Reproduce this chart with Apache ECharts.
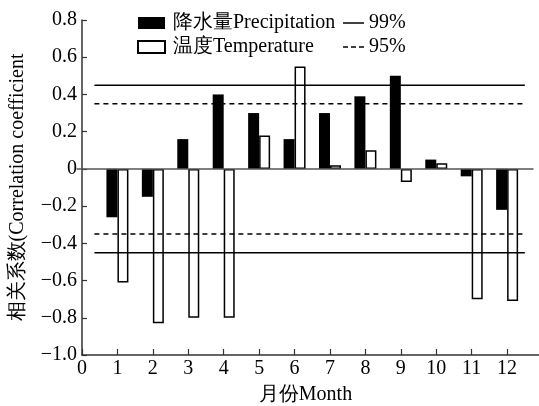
<!DOCTYPE html>
<html><head><meta charset="utf-8">
<script src="https://cdn.jsdelivr.net/npm/echarts@6/dist/echarts.min.js"></script>
<style>html,body{margin:0;padding:0;background:#fff}#c{width:539px;height:406px}</style>
</head><body><div id="c"></div>
<script>
const months = [1,2,3,4,5,6,7,8,9,10,11,12];
const precipitation = [-0.26,-0.15,0.16,0.40,0.30,0.16,0.30,0.39,0.50,0.05,-0.04,-0.22];
const temperature = [-0.61,-0.83,-0.80,-0.80,0.18,0.55,0.02,0.10,-0.07,0.03,-0.70,-0.71];
const xTicks = [0,1,2,3,4,5,6,7,8,9,10,11,12];
const level99 = 0.45;
const level95 = 0.35;
const lineStart = 0.35, lineEnd = 12.5;

const FONT = 'Liberation Serif, serif';
const fmtY = v => { if (Math.abs(v) < 1e-9) return '0'; const s = Math.abs(v).toFixed(1); return (v < 0 ? '\u2212' : '') + s; };
const pair = (xs, ys) => xs.map((x,i)=>[x, ys[i]]);
const hline = (y) => [[lineStart, y],[lineEnd, y]];

const chart = echarts.init(document.getElementById('c'), null, {renderer:'canvas'});
chart.setOption({
  animation:false,
  backgroundColor:'#fff',
  textStyle:{fontFamily:FONT, color:'#000'},
  grid:{left:82, top:20, bottom:51, right:0, containLabel:false, outerBoundsMode:'none'},
  legend:[{
    left:137, top:13, padding:0, orient:'vertical', itemWidth:27, itemHeight:12, itemGap:4,
    textStyle:{fontFamily:FONT, fontSize:20, color:'#000', padding:[0,0,0,3]},
    data:[{name:'降水量Precipitation', icon:'rect'},{name:'温度Temperature', icon:'rect'}]
  },{
    left:343, top:13, padding:0, orient:'vertical', itemWidth:21, itemHeight:1.5, itemGap:4,
    textStyle:{fontFamily:FONT, fontSize:20, color:'#000', padding:[0,0,0,0]},
    data:[
      {name:'99%', icon:'path://M0,0h21v1.5h-21z'},
      {name:'95%', icon:'path://M0,0h5v1.5h-5zM8,0h5v1.5h-5zM16,0h5v1.5h-5z'}
    ]
  }],
  xAxis:{
    type:'value', min:0, max:12.9, interval:1,
    name:'月份Month', nameLocation:'middle', nameGap:30,
    nameTextStyle:{fontFamily:FONT, fontSize:20, color:'#000', padding:[0,10,0,0]},
    axisLine:{onZero:false, lineStyle:{color:'#333', width:1.5}},
    axisTick:{inside:true, length:6, customValues:xTicks, lineStyle:{color:'#333', width:1.2}},
    axisLabel:{fontFamily:FONT, fontSize:20, color:'#000', margin:4, customValues:xTicks,
      formatter: v => String(v)},
    splitLine:{show:false}
  },
  yAxis:{
    type:'value', min:-1.0, max:0.8, interval:0.2,
    name:'相关系数(Correlation coefficient', nameLocation:'middle', nameGap:54,
    nameTextStyle:{fontFamily:FONT, fontSize:20, color:'#000'},
    axisLine:{lineStyle:{color:'#333', width:1.5}},
    axisTick:{inside:true, length:5, lineStyle:{color:'#333', width:1.2}},
    axisLabel:{fontFamily:FONT, fontSize:20, color:'#000', margin:5, formatter: fmtY},
    splitLine:{show:false}
  },
  series:[
    {name:'降水量Precipitation', type:'bar', data:pair(months, precipitation),
     barWidth:11, barGap:'0%', itemStyle:{color:'#000', borderColor:'#000', borderWidth:0},
     markLine:{silent:true, symbol:'none', label:{show:false},
       lineStyle:{color:'#555', width:1.5, type:'solid'},
       data:[[{coord:[0,0]},{coord:[12.9,0]}]]}},
    {name:'温度Temperature', type:'bar', data:pair(months, temperature),
     barWidth:11, barGap:'0%', itemStyle:{color:'#fff', borderColor:'#000', borderWidth:1.5}},
    {name:'99%', type:'line', data:hline(level99), symbol:'none',
     lineStyle:{color:'#000', width:1.5, type:'solid'}, itemStyle:{color:'#000'}},
    {name:'99%', type:'line', data:hline(-level99), symbol:'none',
     lineStyle:{color:'#000', width:1.5, type:'solid'}, itemStyle:{color:'#000'}},
    {name:'95%', type:'line', data:hline(level95), symbol:'none',
     lineStyle:{color:'#000', width:1.5, type:[5,4]}, itemStyle:{color:'#000'}},
    {name:'95%', type:'line', data:hline(-level95), symbol:'none',
     lineStyle:{color:'#000', width:1.5, type:[5,4]}, itemStyle:{color:'#000'}}
  ]
});
</script></body></html>
